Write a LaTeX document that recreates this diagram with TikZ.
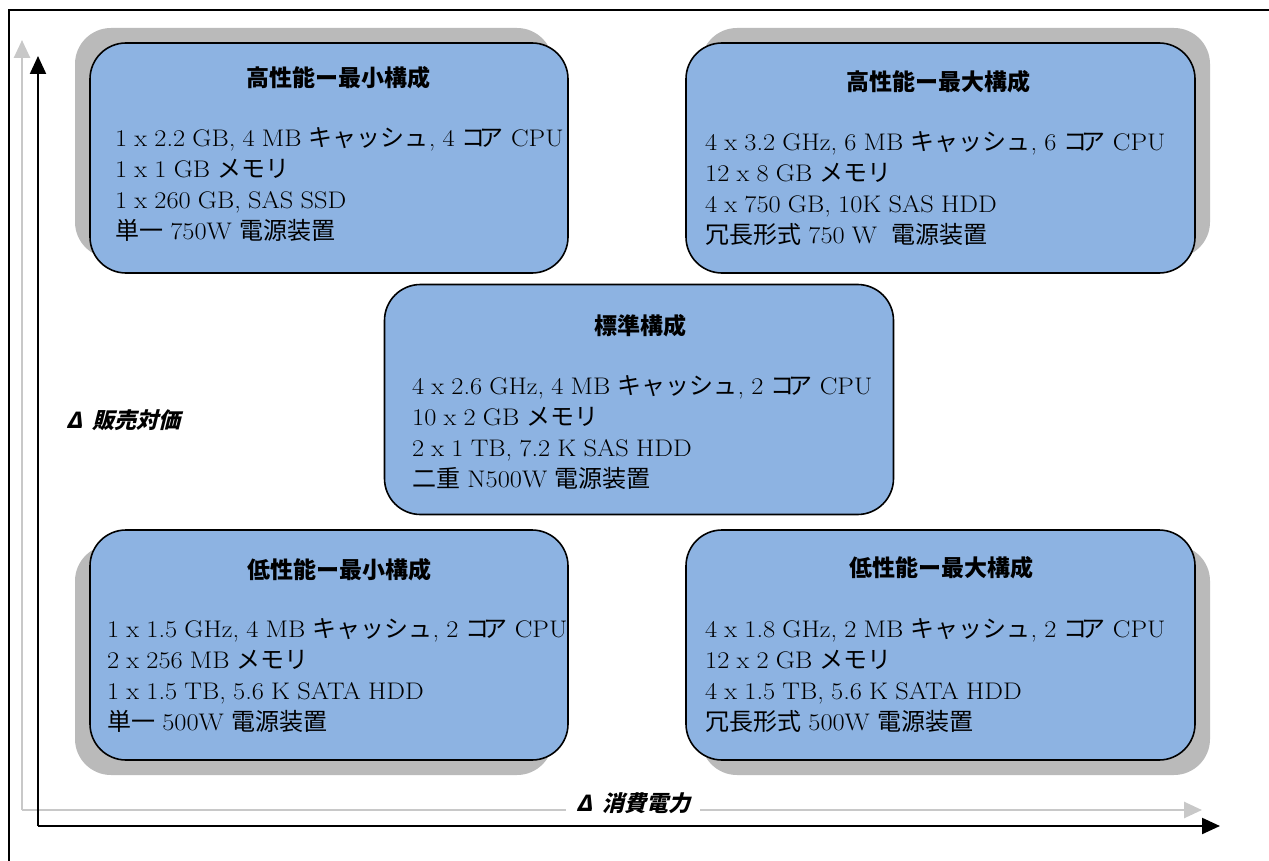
\documentclass[tikz,border=0pt]{standalone}
\usepackage{fontspec}
\setmainfont{Latin Modern Roman}[FakeStretch=1.1, WordSpace=0.9]
\newfontfamily\cjk{Noto Sans CJK JP}
\newfontfamily\cjksl[FakeSlant=0.25]{Noto Sans CJK JP}
\usetikzlibrary{arrows.meta}
\definecolor{boxblue}{RGB}{141,179,226}
\definecolor{shadowgray}{RGB}{186,186,186}
\definecolor{axisgray}{RGB}{200,200,200}
\newcommand{\jp}[1]{{\cjk #1}}
\newcommand{\cache}{\jp{キャッシュ}}
\newcommand{\core}{\jp{コ\hspace{-6pt}ア}}
\begin{document}
\begin{tikzpicture}[x=1pt,y=-1pt,
  cfgbox/.style={draw=black, line width=1.6pt, fill=boxblue, rounded corners=36pt, minimum height=230pt, inner sep=0pt},
  shadowbox/.style={fill=shadowgray, rounded corners=36pt, minimum height=230pt, inner sep=0pt},
  narrow/.style={minimum width=478pt},
  wide/.style={minimum width=509pt},
  ttl/.style={font=\cjk\bfseries\fontsize{23}{28}\selectfont, inner sep=0pt},
  body/.style={font=\fontsize{24}{31}\selectfont, align=left, anchor=north west, inner sep=0pt},
  axlab/.style={font=\cjksl\bfseries\fontsize{22}{26}\selectfont, inner sep=2pt},
  blackaxis/.style={line width=2.2pt, -{Triangle[length=18pt,width=16pt]}},
  grayaxis/.style={draw=axisgray, line width=2.6pt, -{Triangle[length=18pt,width=16pt]}},
]
\useasboundingbox (0,0) rectangle (1269,861);
% frame
\coordinate (fa) at (1269,10);
\coordinate (fb) at (9,10);
\coordinate (fc) at (9,861);
\draw[line width=2.8pt] (fa) -- (fb) -- (fc);
% gray axes
\coordinate (go) at (22,810);
\coordinate (gy) at (22,40);
\coordinate (gx) at (1202,810);
\draw[grayaxis] (go) -- (gy);
\draw[grayaxis] (go) -- (gx);
% black axes
\coordinate (bo) at (38,826);
\coordinate (by) at (38,56);
\coordinate (bx) at (1220,826);
\draw[blackaxis] (bo) -- (by);
\draw[blackaxis] (bo) -- (bx);
% shadows
\node[shadowbox, narrow] (tls) at (314,143) {};
\node[shadowbox, wide] (trs) at (955.5,143) {};
\node[shadowbox, narrow] (bls) at (314,660) {};
\node[shadowbox, wide] (brs) at (955.5,660) {};
% boxes
\node[cfgbox, narrow] (tl) at (329,158) {};
\node[cfgbox, wide] (tr) at (940.5,158) {};
\node[cfgbox, wide] (cc) at (639,399.5) {};
\node[cfgbox, narrow] (bl) at (329,645) {};
\node[cfgbox, wide] (br) at (940.5,645) {};
% titles
\node[ttl] (tlt) at (338,78) {高性能ー最小構成};
\node[ttl] (trt) at (938,82) {高性能ー最大構成};
\node[ttl] (cct) at (640,326) {標準構成};
\node[ttl] (blt) at (339,570) {低性能ー最小構成};
\node[ttl] (brt) at (941,568) {低性能ー最大構成};
% bodies
\node[body] (tlb) at (115,127) {1 x 2.2 GB, 4 MB \cache, 4 \core{} CPU\\1 x 1 GB \jp{メモリ}\\1 x 260 GB, SAS SSD\\\jp{単一} 750W \jp{電源装置}};
\node[body] (trb) at (705,131) {4 x 3.2 GHz, 6 MB \cache, 6 \core{} CPU\\12 x 8 GB \jp{メモリ}\\4 x 750 GB, 10K SAS HDD\\\jp{冗長形式} 750 W \ \jp{電源装置}};
\node[body] (ccb) at (412,375) {4 x 2.6 GHz, 4 MB \cache, 2 \core{} CPU\\10 x 2 GB \jp{メモリ}\\2 x 1 TB, 7.2 K SAS HDD\\\jp{二重} N500W \jp{電源装置}};
\node[body] (blb) at (107,618) {1 x 1.5 GHz, 4 MB \cache, 2 \core{} CPU\\2 x 256 MB \jp{メモリ}\\1 x 1.5 TB, 5.6 K SATA HDD\\\jp{単一} 500W \jp{電源装置}};
\node[body] (brb) at (705,618) {4 x 1.8 GHz, 2 MB \cache, 2 \core{} CPU\\12 x 2 GB \jp{メモリ}\\4 x 1.5 TB, 5.6 K SATA HDD\\\jp{冗長形式} 500W \jp{電源装置}};
% axis labels
\node[axlab, anchor=west] (ylab) at (64,420) {Δ\hspace{10pt}販売対価};
\node[axlab, anchor=west, fill=white, inner xsep=10pt] (xlab) at (566,803) {Δ\hspace{10pt}消費電力};
\end{tikzpicture}
\end{document}
